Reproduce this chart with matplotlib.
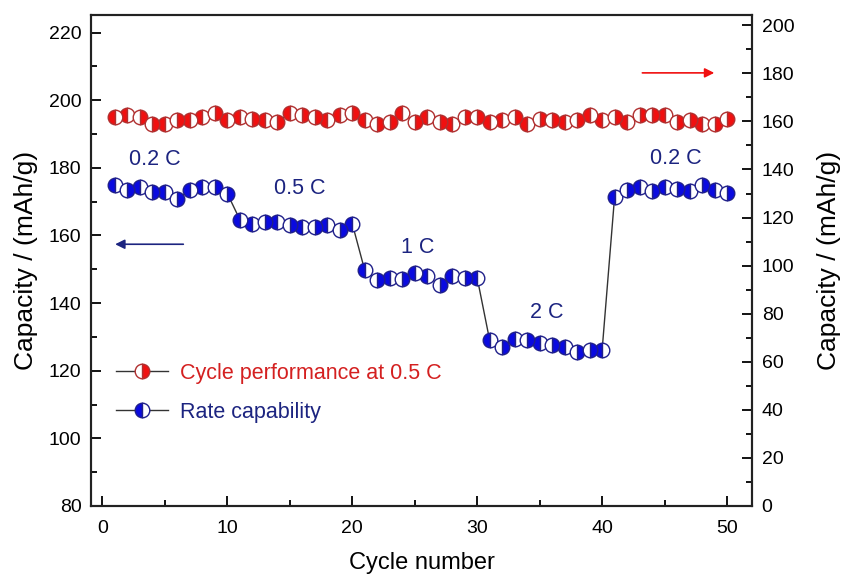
import numpy as np
import matplotlib.pyplot as plt
from matplotlib.ticker import MultipleLocator

plt.rcParams['font.family'] = ['Liberation Sans', 'DejaVu Sans']

# données
cycles = np.arange(1, 51)

# capacité en cyclage à 0.5 C (axe de droite)
cycle_perf = [161.9, 162.6, 161.9, 159.1, 159.1, 160.5, 160.5, 161.9, 163.3, 160.5,
              161.9, 161.2, 160.5, 159.8, 163.3, 162.6, 161.9, 160.5, 162.6, 163.3,
              160.5, 159.1, 159.8, 163.3, 159.8, 161.9, 159.8, 159.1, 161.9, 161.9,
              159.8, 160.5, 161.9, 159.1, 161.2, 160.5, 159.8, 160.5, 162.6, 160.5,
              161.9, 159.8, 162.6, 162.6, 162.6, 159.8, 160.5, 159.1, 159.1, 161.2]

# capacité en régime (axe de gauche)
rate_cap = [174.8, 173.3, 174.3, 172.8, 172.8, 170.9, 173.3, 174.3, 174.3, 172.4,
            164.7, 163.5, 164.0, 164.0, 163.0, 162.5, 162.5, 163.0, 161.5, 163.5,
            149.7, 146.8, 147.5, 147.0, 149.0, 148.0, 145.3, 148.0, 147.5, 147.5,
            129.0, 127.1, 129.5, 129.0, 128.1, 127.6, 127.1, 125.6, 126.0, 126.0,
            171.4, 173.3, 174.3, 173.0, 174.3, 173.8, 173.0, 174.8, 173.3, 172.6]

rate_labels = ["0.2 C", "0.5 C", "1 C", "2 C", "0.2 C"]
rate_label_pos = [(4.2, 182.5), (15.8, 173.8), (25.2, 156.5), (35.6, 137.3), (45.9, 182.8)]

# moitié remplie à gauche (L) ou à droite (R)
red_fill = "LLRRLRLLRLLRLRLRRLLRLRRLRLRLRRLLRLRRLRLLRLRRLRRLRR"
blue_fill = "LRLRLRLLRRLLRLRLRLRLLRLRLLRLRLLRLRLRLRRLLRLRLRLRLR"

fig = plt.figure(figsize=(8.44, 5.75), dpi=100)
ax = fig.add_axes([0.108, 0.12, 0.783, 0.854])
ax2 = ax.twinx()

navy = '#1c2480'
blue = '#0a0ae0'
red = '#f01010'
dred = '#b03030'

# courbe bleue
ax.plot(cycles, rate_cap, '-', color='#333333', lw=1.0, zorder=2)
for code, fs in [("L", "left"), ("R", "right")]:
    idx = [i for i, c in enumerate(blue_fill) if c == code]
    ax.plot(cycles[idx], np.array(rate_cap)[idx], ls='none', marker='o', ms=10.5,
            fillstyle=fs, markerfacecolor=blue, markerfacecoloralt='white',
            markeredgecolor='#20208a', markeredgewidth=1.0, zorder=3)

# courbe rouge
ax2.plot(cycles, cycle_perf, '-', color='#333333', lw=1.0, zorder=2)
for code, fs in [("L", "left"), ("R", "right")]:
    idx = [i for i, c in enumerate(red_fill) if c == code]
    ax2.plot(cycles[idx], np.array(cycle_perf)[idx], ls='none', marker='o', ms=10.5,
             fillstyle=fs, markerfacecolor=red, markerfacecoloralt='white',
             markeredgecolor=dred, markeredgewidth=1.0, zorder=3)

for txt, (x, y) in zip(rate_labels, rate_label_pos):
    ax.text(x, y, txt, color=navy, fontsize=15.5, ha='center', va='center')

# flèches
ax.annotate('', xy=(0.8, 157.4), xytext=(6.7, 157.4),
            arrowprops=dict(arrowstyle='-|>', color=navy, lw=1.2, mutation_scale=14))
ax2.annotate('', xy=(49.2, 180.2), xytext=(43.0, 180.2),
             arrowprops=dict(arrowstyle='-|>', color=red, lw=1.2, mutation_scale=14))

# légende
h1, = ax.plot([], [], '-', color='#333333', lw=1.0, marker='o', ms=10.5, fillstyle='right',
              markerfacecolor=red, markerfacecoloralt='white', markeredgecolor=dred)
h2, = ax.plot([], [], '-', color='#333333', lw=1.0, marker='o', ms=10.5, fillstyle='left',
              markerfacecolor=blue, markerfacecoloralt='white', markeredgecolor='#20208a')
leg = ax.legend([h1, h2], ["Cycle performance at 0.5 C", "Rate capability"],
                loc='center left', bbox_to_anchor=(0.038, 0.2305), frameon=False,
                borderpad=0, borderaxespad=0,
                fontsize=15.5, handlelength=2.4, labelspacing=0.85, handletextpad=0.56,
                labelcolor=['#d42020', navy])

ax.set_xlim(-0.9, 52)
ax.set_ylim(80, 225.2)
ax2.set_ylim(0, 204.3)

ax.xaxis.set_major_locator(MultipleLocator(10))
ax.xaxis.set_minor_locator(MultipleLocator(5))
ax.yaxis.set_major_locator(MultipleLocator(20))
ax.yaxis.set_minor_locator(MultipleLocator(10))
ax2.yaxis.set_major_locator(MultipleLocator(20))
ax2.yaxis.set_minor_locator(MultipleLocator(10))

for a in (ax, ax2):
    a.tick_params(which='major', direction='in', length=7, width=1.3, labelsize=14, pad=7)
    a.tick_params(which='minor', direction='in', length=4, width=1.3)
    for s in a.spines.values():
        s.set_linewidth(1.5)
        s.set_color('#222222')
ax.tick_params(axis='x', pad=10)

ax.set_xlabel("Cycle number", fontsize=17, labelpad=11)
ax.set_ylabel("Capacity / (mAh/g)", fontsize=19, labelpad=8)
ax2.set_ylabel("Capacity / (mAh/g)", fontsize=19, labelpad=16)

fig.savefig("out.png", dpi=100)
